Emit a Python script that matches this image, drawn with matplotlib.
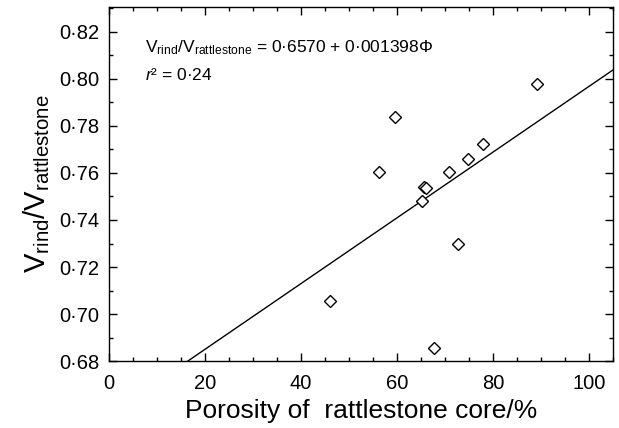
import matplotlib
matplotlib.use("Agg")
import matplotlib.pyplot as plt
from matplotlib.ticker import MultipleLocator, FuncFormatter
import numpy as np

plt.rcParams['font.family'] = ['Liberation Sans', 'DejaVu Sans']
plt.rcParams['mathtext.fontset'] = 'custom'
plt.rcParams['mathtext.rm'] = 'Liberation Sans'
plt.rcParams['mathtext.it'] = 'Liberation Sans:italic'

# porosity (%) and velocity ratio
porosity = [46.0, 56.2, 59.7, 65.3, 65.6, 66.0, 67.8, 70.8, 72.8, 74.9, 78.0, 89.2]
v_ratio = [0.7057, 0.7606, 0.7837, 0.7481, 0.7542, 0.7535, 0.6857, 0.7606, 0.7298, 0.7661, 0.7725, 0.7980]

intercept = 0.6570
slope = 0.001398

fig = plt.figure(figsize=(6.19, 4.28), dpi=100)
ax = fig.add_axes([0.176, 0.1565, 0.814, 0.827])

xs = np.array([0, 105])
ax.plot(xs, intercept + slope * xs, color="black", lw=1)
ax.plot(porosity, v_ratio, ls="none", marker="D", ms=6.5, mfc="white", mec="black", mew=1)

ax.set_xlim(0, 105)
ax.set_ylim(0.68, 0.8306)
ax.xaxis.set_major_locator(MultipleLocator(20))
ax.xaxis.set_minor_locator(MultipleLocator(5))
ax.yaxis.set_major_locator(MultipleLocator(0.02))
ax.yaxis.set_minor_locator(MultipleLocator(0.01))
ax.yaxis.set_major_formatter(FuncFormatter(lambda v, p: f"{v:.2f}".replace(".", "\u00b7")))
ax.tick_params(which="both", direction="in", top=True, right=True, width=1)
ax.tick_params(which="major", length=6, labelsize=14.5)
ax.tick_params(axis="x", which="major", pad=9)
ax.tick_params(axis="y", which="major", pad=7)
ax.tick_params(which="minor", length=3)
for s in ax.spines.values():
    s.set_linewidth(1)

ax.set_xlabel("Porosity of  rattlestone core/%", fontsize=19, labelpad=5)
ax.set_ylabel(r"$\mathrm{V_{rind}/V_{rattlestone}}$", fontsize=21, labelpad=5)

ax.text(7.5, 0.8115, "$\\mathrm{V_{rind}/V_{rattlestone}}$ = 0\u00b76570 + 0\u00b7001398\u03a6",
        fontsize=12.5, va="baseline")
ax.text(7.5, 0.7996, "$r$\u00b2 = 0\u00b724", fontsize=12.5, va="baseline")

fig.savefig("out.png", dpi=100)
